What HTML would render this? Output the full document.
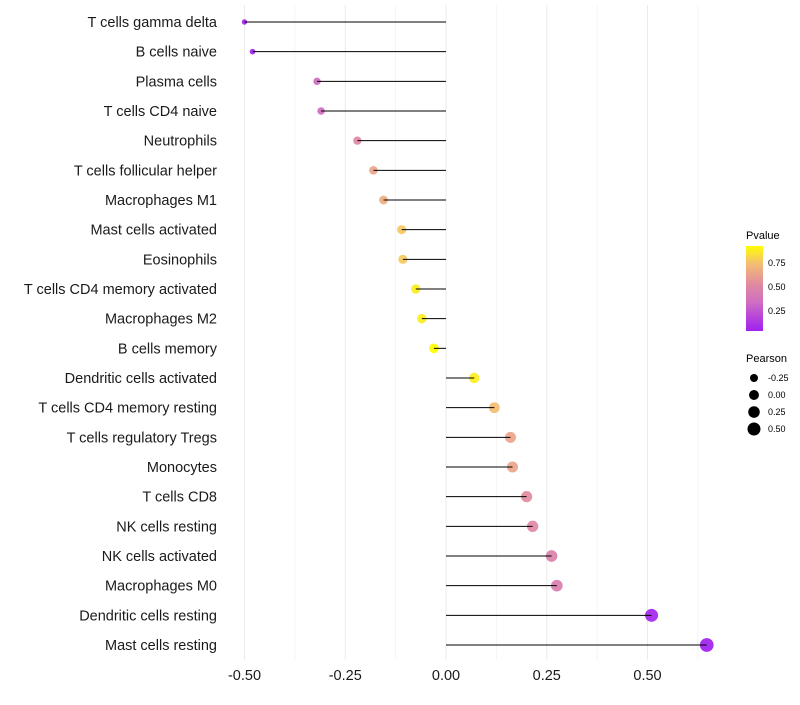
<!DOCTYPE html>
<html><head><meta charset="utf-8"><style>
body{margin:0;background:#fff;font-family:"Liberation Sans",sans-serif}
svg text{font-family:"Liberation Sans",sans-serif}
</style></head><body>
<svg id="chart" width="800" height="700" xmlns="http://www.w3.org/2000/svg">
<defs><linearGradient id="pg" x1="0" y1="1" x2="0" y2="0">
<stop offset="0" stop-color="#a020f0"/><stop offset="0.35" stop-color="#d070c0"/><stop offset="0.55" stop-color="#e08aa0"/><stop offset="0.8" stop-color="#f5c070"/><stop offset="1" stop-color="#ffff00"/></linearGradient></defs>
<g id="grid"></g><g id="points"></g><g id="stems"></g><g id="axes"></g>
<g>
<text x="746" y="239" font-size="11">Pvalue</text>
<rect x="746" y="246" width="17" height="85" fill="url(#pg)"/>
<text x="768" y="266" font-size="9">0.75</text><text x="768" y="290" font-size="9">0.50</text><text x="768" y="314" font-size="9">0.25</text>
<text x="746" y="362" font-size="11">Pearson</text>
<g id="sizeleg"></g>
</g>
</svg>
<script>
const categories=["T cells gamma delta","B cells naive","Plasma cells","T cells CD4 naive","Neutrophils","T cells follicular helper","Macrophages M1","Mast cells activated","Eosinophils","T cells CD4 memory activated","Macrophages M2","B cells memory","Dendritic cells activated","T cells CD4 memory resting","T cells regulatory  Tregs ","Monocytes","T cells CD8","NK cells resting","NK cells activated","Macrophages M0","Dendritic cells resting","Mast cells resting"];
const pearson=[-0.50,-0.48,-0.32,-0.31,-0.22,-0.18,-0.155,-0.11,-0.107,-0.075,-0.06,-0.03,0.07,0.12,0.16,0.165,0.20,0.215,0.262,0.275,0.51,0.647];
const pvalue=[0.04,0.05,0.32,0.32,0.50,0.62,0.66,0.76,0.76,0.86,0.86,0.92,0.86,0.72,0.62,0.62,0.52,0.50,0.45,0.43,0.05,0.03];
const xTicks=[-0.5,-0.25,0,0.25,0.5];
const xTickLabels=["-0.50","-0.25","0.00","0.25","0.50"];
const sizeLegend=[-0.25,0,0.25,0.5];
const sizeLegendLabels=["-0.25","0.00","0.25","0.50"];
const ns="http://www.w3.org/2000/svg";
const xs=v=>446+v*403;
const ys=i=>22+i*(623/(categories.length-1));
const rs=v=>Math.sqrt(Math.max(1,24.7+34.7*v));
function col(p){const t=Math.min(1,Math.max(0,(p-0.03)/0.88));
const st=[[0,[160,32,240]],[0.35,[208,112,192]],[0.55,[224,138,160]],[0.8,[245,192,112]],[1,[255,255,0]]];
for(let k=1;k<st.length;k++){if(t<=st[k][0]){const a=st[k-1],b=st[k],f=(t-a[0])/(b[0]-a[0]);
return "rgb("+a[1].map((c,j)=>Math.round(c+(b[1][j]-c)*f)).join(",")+")";}}return "rgb(255,255,0)";}
function mk(tag,at,parent){const e=document.createElementNS(ns,tag);for(const k in at)e.setAttribute(k,at[k]);parent.appendChild(e);return e;}
const grid=document.getElementById('grid'),points=document.getElementById('points'),stems=document.getElementById('stems'),axes=document.getElementById('axes');
for(let v=-0.5;v<=0.7;v+=0.125){const g=mk('line',{x1:xs(v),x2:xs(v),y1:5,y2:660,stroke:'#ebebeb','stroke-width':Math.abs((v*4)%1)<0.01?1:0.5},grid);

}
categories.forEach((c,i)=>{
const t=mk('text',{x:217,y:ys(i)+5,'text-anchor':'end','font-size':14.5,fill:'#1a1a1a'},axes);t.textContent=c;


const d=mk('circle',{cx:xs(pearson[i]),cy:ys(i),r:rs(pearson[i]),fill:col(pvalue[i]),'fill-opacity':0.92},points);


const l=mk('line',{x1:xs(0),x2:xs(pearson[i]),y1:ys(i),y2:ys(i),stroke:'#000','stroke-width':1},stems);


});
xTicks.forEach((v,i)=>{const t=mk('text',{x:xs(v),y:680,'text-anchor':'middle','font-size':14.5,fill:'#1a1a1a'},axes);t.textContent=xTickLabels[i];

});
const sl=document.getElementById('sizeleg');
sizeLegend.forEach((v,i)=>{const y=378+i*17;
const c=mk('circle',{cx:754,cy:y,r:rs(v),fill:'#000'},sl);


const t=mk('text',{x:768,y:y+3,'font-size':9},sl);t.textContent=sizeLegendLabels[i];

});
</script>
</body></html>
